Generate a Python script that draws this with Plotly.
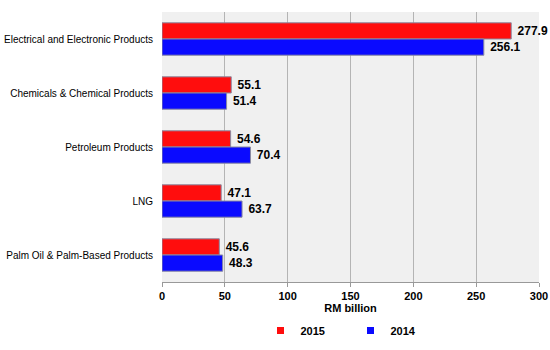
import plotly.graph_objects as go

categories = ["Electrical and Electronic Products", "Chemicals & Chemical Products",
              "Petroleum Products", "LNG", "Palm Oil & Palm-Based Products"]
values_2015 = [277.9, 55.1, 54.6, 47.1, 45.6]
values_2014 = [256.1, 51.4, 70.4, 63.7, 48.3]
tick_vals = [0, 50, 100, 150, 200, 250, 300]

series = [("2015", values_2015, "#ff0d0d"), ("2014", values_2014, "#0a0aff")]

fig = go.Figure()
for name, vals, color in series:
    fig.add_trace(go.Bar(
        y=categories, x=vals, name=name, orientation="h", showlegend=False,
        marker=dict(color=color, line=dict(color="#8a8aa0", width=1)),
        text=["\u00a0" + f"{v:.1f}" for v in vals], textposition="outside",
        textfont=dict(family="Arial, Liberation Sans", size=12, color="black", weight="bold"),
        cliponaxis=False,
    ))
for name, vals, color in series:
    fig.add_trace(go.Scatter(
        x=[None], y=[None], name=name, mode="markers",
        marker=dict(symbol="square", size=7, color=color, line=dict(width=0)),
    ))

fig.update_layout(
    width=550, height=350,
    margin=dict(l=162, r=11, t=12, b=68, autoexpand=False),
    barmode="group", bargap=0.4, bargroupgap=0,
    plot_bgcolor="#f0f0f0", paper_bgcolor="white",
    font=dict(family="Arial, Liberation Sans", color="black"),
    xaxis=dict(range=[0, 300], tickvals=tick_vals, showgrid=True, gridcolor="#b4b4b4",
               gridwidth=1, zeroline=False, showline=True, linecolor="#999999",
               ticks="outside", ticklen=4, tickcolor="#999999", automargin=False,
               tickfont=dict(size=11, weight="bold"),
               title=dict(text="RM billion", font=dict(size=11, weight="bold"), standoff=3)),
    yaxis=dict(autorange="reversed", showgrid=False, showline=False, ticks="",
               tickfont=dict(size=10), ticklabelstandoff=8, automargin=False),
    legend=dict(orientation="h", x=0.5, xanchor="center", y=-0.18, yanchor="middle",
                font=dict(size=11, weight="bold"), itemwidth=30,
                traceorder="normal", tracegroupgap=0, entrywidth=45),
    showlegend=True,
)
fig.write_html("out.html")
